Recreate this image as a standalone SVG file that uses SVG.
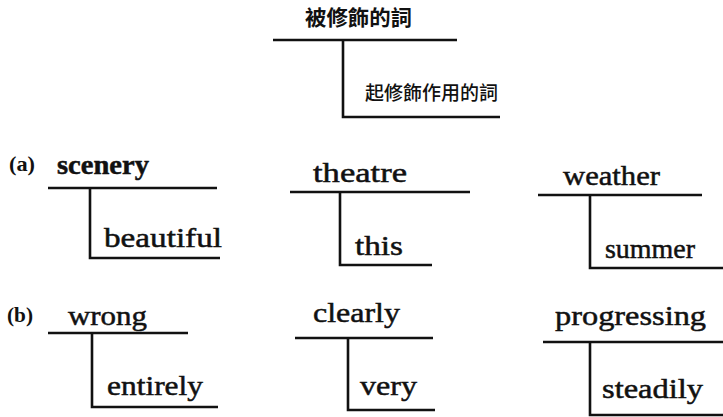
<svg xmlns="http://www.w3.org/2000/svg" width="723" height="417" viewBox="0 0 723 417">
<style>
.bg{fill:#ffffff}
.ln{stroke:#111;stroke-width:2.6;fill:none;stroke-linecap:butt}
.w{font-family:"Liberation Serif","Times New Roman",serif;font-size:28px;fill:#111;stroke:#111;stroke-width:0.5}
.lab{font-family:"Liberation Serif","Times New Roman",serif;font-size:21px;font-weight:bold;fill:#111}
.cj{font-family:"Noto Sans CJK TC","Noto Sans CJK SC",sans-serif;fill:#111}
</style>
<rect class="bg" x="0" y="0" width="723" height="417"/>
<g id="connectors">
  <path class="ln" d="M273 40 H457 M343 40 V117 H500"/>
  <path class="ln" d="M48 188 H217 M90 188 V258 H220"/>
  <path class="ln" d="M290 192 H470 M340 192 V265 H432"/>
  <path class="ln" d="M538 195 H702 M590 195 V268 H723"/>
  <path class="ln" d="M48 333 H188 M92 333 V407 H218"/>
  <path class="ln" d="M295 338 H433 M348 338 V410 H435"/>
  <path class="ln" d="M543 342 H723 M590 342 V415 H723"/>
</g>
<g id="legend">
  <text class="cj" x="305" y="25" font-size="21" font-weight="bold" textLength="107" lengthAdjust="spacingAndGlyphs">被修飾的詞</text>
  <text class="cj" x="365" y="100" font-size="19" font-weight="500" textLength="133" lengthAdjust="spacingAndGlyphs">起修飾作用的詞</text>
</g>
<g id="label-a"><text class="lab" x="9" y="171" textLength="26" lengthAdjust="spacingAndGlyphs">(a)</text></g>
<g id="label-b"><text class="lab" x="7" y="322" textLength="26" lengthAdjust="spacingAndGlyphs">(b)</text></g>
<g id="scenery"><text class="w" x="57" y="174" font-weight="bold" textLength="92" lengthAdjust="spacingAndGlyphs">scenery</text></g>
<g id="beautiful"><text class="w" x="104" y="247" textLength="118" lengthAdjust="spacingAndGlyphs">beautiful</text></g>
<g id="theatre"><text class="w" x="313" y="182" textLength="94" lengthAdjust="spacingAndGlyphs">theatre</text></g>
<g id="this"><text class="w" x="355" y="255" textLength="48" lengthAdjust="spacingAndGlyphs">this</text></g>
<g id="weather"><text class="w" x="563" y="185" textLength="97" lengthAdjust="spacingAndGlyphs">weather</text></g>
<g id="summer"><text class="w" x="605" y="258" textLength="90" lengthAdjust="spacingAndGlyphs">summer</text></g>
<g id="wrong"><text class="w" x="68" y="325" textLength="79" lengthAdjust="spacingAndGlyphs">wrong</text></g>
<g id="entirely"><text class="w" x="107" y="395" textLength="96" lengthAdjust="spacingAndGlyphs">entirely</text></g>
<g id="clearly"><text class="w" x="313" y="322" textLength="87" lengthAdjust="spacingAndGlyphs">clearly</text></g>
<g id="very"><text class="w" x="360" y="395" textLength="57" lengthAdjust="spacingAndGlyphs">very</text></g>
<g id="progressing"><text class="w" x="555" y="325" textLength="151" lengthAdjust="spacingAndGlyphs">progressing</text></g>
<g id="steadily"><text class="w" x="602" y="398" textLength="101" lengthAdjust="spacingAndGlyphs">steadily</text></g>
</svg>
